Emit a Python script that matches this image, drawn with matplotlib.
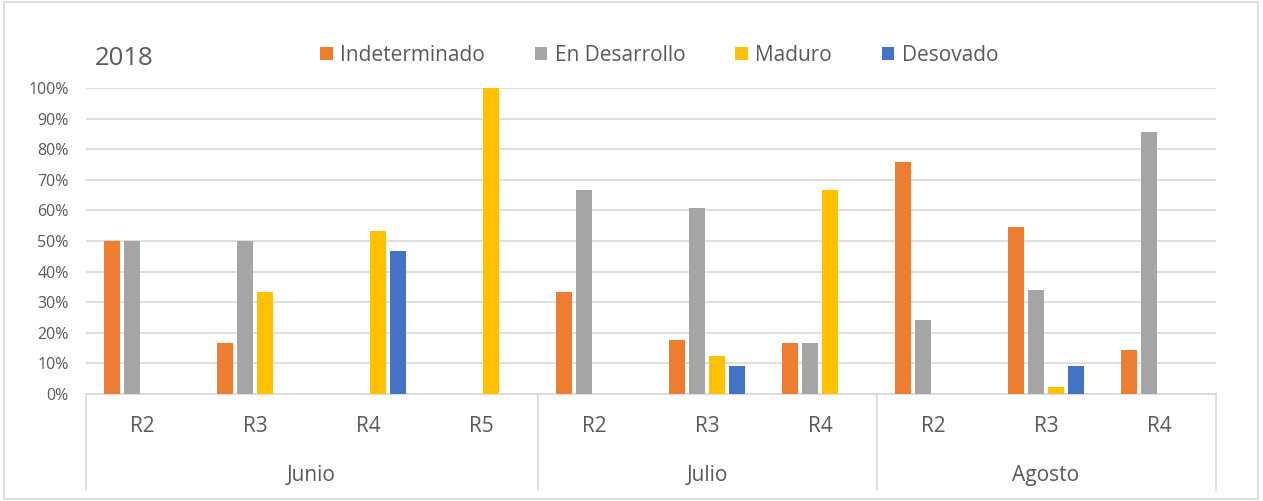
import numpy as np
import matplotlib.pyplot as plt
from matplotlib.patches import Rectangle, Patch
from matplotlib.ticker import PercentFormatter

plt.rcParams['font.family'] = ['Open Sans', 'DejaVu Sans']

# Data (fractions)
months = ['Junio', 'Julio', 'Agosto']
sites = ['R2', 'R3', 'R4', 'R5', 'R2', 'R3', 'R4', 'R2', 'R3', 'R4']
month_sizes = [4, 3, 3]
series_names = ['Indeterminado', 'En Desarrollo', 'Maduro', 'Desovado']
indeterminado = [0.50, 0.167, 0.0, 0.0, 0.333, 0.176, 0.167, 0.758, 0.545, 0.143]
en_desarrollo = [0.50, 0.50, 0.0, 0.0, 0.667, 0.608, 0.167, 0.242, 0.341, 0.857]
maduro = [0.0, 0.333, 0.533, 1.0, 0.0, 0.124, 0.667, 0.0, 0.023, 0.0]
desovado = [0.0, 0.0, 0.467, 0.0, 0.0, 0.092, 0.0, 0.0, 0.091, 0.0]
colors = ['#ED7D31', '#A5A5A5', '#FFC000', '#4472C4']

text_color = '#595959'
grid_color = '#D9D9D9'

fig = plt.figure(figsize=(12.63, 5.01), dpi=100)
ax = fig.add_axes([0.0677, 0.2136, 0.8947, 0.6108])

x = np.arange(len(sites))
step = 0.177
width = 0.137
all_series = [indeterminado, en_desarrollo, maduro, desovado]
for i, (vals, col) in enumerate(zip(all_series, colors)):
    ax.bar(x + (i - 1.5) * step, vals, width=width, color=col, linewidth=0, zorder=3)

ax.set_xlim(-0.5, len(sites) - 0.5)
ax.set_ylim(0, 1.0)
ax.set_yticks(np.arange(0, 1.01, 0.1))
ax.yaxis.set_major_formatter(PercentFormatter(1.0, decimals=0))
ax.tick_params(axis='y', length=0, pad=12, labelsize=11.5, labelcolor=text_color)
ax.set_xticks([])
ax.grid(axis='y', color=grid_color, linewidth=1.2, zorder=0)
for s in ['top', 'right', 'left']:
    ax.spines[s].set_visible(False)
ax.spines['bottom'].set_color(grid_color)
ax.spines['bottom'].set_linewidth(1.2)

# Multi-level category axis
trans = ax.get_xaxis_transform()
for xi, lab in zip(x, sites):
    ax.text(xi, -0.106, lab, transform=trans, ha='center', va='center',
            fontsize=15, color=text_color)
edges = np.concatenate([[0], np.cumsum(month_sizes)]) - 0.5
for m, (a, b) in zip(months, zip(edges[:-1], edges[1:])):
    ax.text((a + b) / 2, -0.266, m, transform=trans, ha='center', va='center',
            fontsize=15, color=text_color)
for e in edges:
    ax.plot([e, e], [0, -0.314], transform=trans, color=grid_color,
            linewidth=1.2, clip_on=False)

# Title and legend
fig.text(0.075, 0.884, '2018', ha='left', va='center', fontsize=18.5, color=text_color)
handles = [Patch(facecolor=c, edgecolor='none') for c in colors]
fig.legend(handles, series_names, loc='center', bbox_to_anchor=(0.522, 0.889),
           ncol=4, frameon=False, fontsize=15, labelcolor=text_color,
           handlelength=0.6, handleheight=0.6, handletextpad=0.35, columnspacing=2.4)

# Chart border
fig.patches.append(Rectangle((0.003, 0.004), 0.993, 0.992, transform=fig.transFigure,
                             fill=False, edgecolor=grid_color, linewidth=1.2))

fig.savefig('out.png', dpi=100)
